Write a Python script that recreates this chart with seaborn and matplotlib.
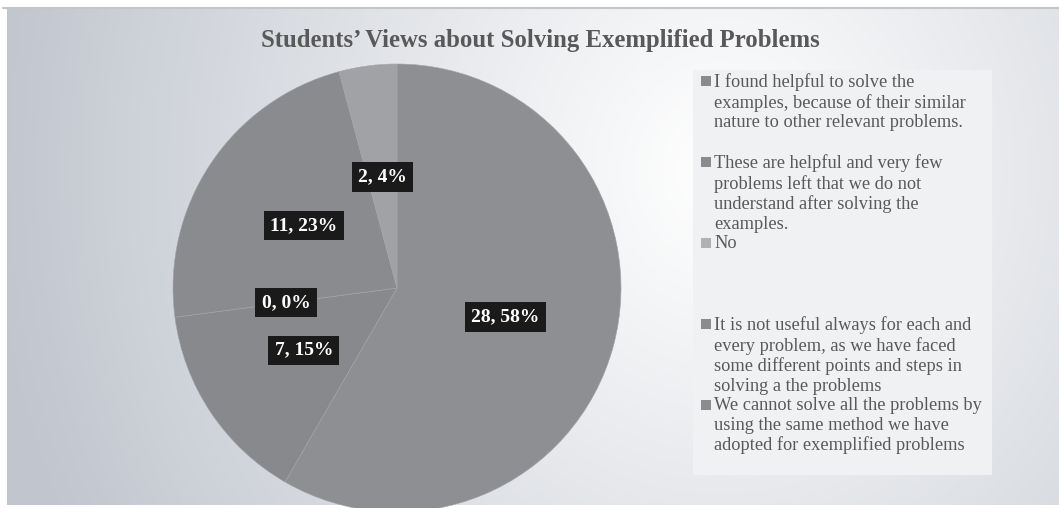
import matplotlib.pyplot as plt
import numpy as np
import seaborn as sns
from matplotlib.patches import Rectangle

sns.set_theme(style='white')
plt.rcParams['font.family'] = ['Liberation Serif', 'DejaVu Serif']

# data
answers = [
    'I found helpful to solve the\nexamples, because of their similar\nnature to other relevant problems.',
    'These are helpful and very few\nproblems left that we do not\nunderstand after solving the\nexamples.',
    'No',
    'It is not useful always for each and\nevery problem, as we have faced\nsome different points and steps in\nsolving a the problems',
    'We cannot solve all the problems by\nusing the same method we have\nadopted for exemplified problems',
]
counts = [28, 7, 0, 11, 2]
percents = [58, 15, 0, 23, 4]
slice_colors = ['#8e8f93', '#88898d', '#b0b1b4', '#8a8b8f', '#a1a2a6']
marker_colors = ['#8a8b8f', '#8a8b8f', '#b0b1b4', '#8a8b8f', '#8a8b8f']

W, H = 1059, 508
fig = plt.figure(figsize=(W / 100, H / 100), dpi=100)
fig.patch.set_facecolor('white')

# background gradient of the chart area
bg = fig.add_axes([7 / W, 3 / H, 1 - 7 / W, (505 - 8) / H])
yy, xx = np.mgrid[8:505, 7:W]
d = np.sqrt(((xx - 720) / 1.0) ** 2 + ((yy - 170) / 1.1) ** 2)
t = np.clip(d / 740, 0, 1) ** 1.05
c0 = np.array([255, 255, 255]) / 255
c1 = np.array([192, 197, 206]) / 255
img = c0[None, None, :] * (1 - t[..., None]) + c1[None, None, :] * t[..., None]
bg.imshow(img, aspect='auto', extent=[0, 1, 0, 1])
bg.set_axis_off()
fig.add_artist(plt.Line2D([3 / W, 1], [1 - 7.5 / H, 1 - 7.5 / H], color='#c6c6c6', lw=1.5))

# pie
cx, cy, r = 397, 288, 224
ax = fig.add_axes([(cx - r) / W, (H - cy - r) / H, 2 * r / W, 2 * r / H])
label_iter = iter([f'{c}, {p}%' for c, p in zip(counts, percents)])
wedges, texts, autotexts = ax.pie(
    counts, colors=slice_colors, startangle=90, counterclock=False,
    autopct=lambda pct: next(label_iter), pctdistance=0.5, radius=1,
    wedgeprops=dict(edgecolor='#a3a4a8', linewidth=0.4),
    textprops=dict(color='white', fontsize=14, fontweight='bold'))
for txt in autotexts:
    txt.set_bbox(dict(boxstyle='square,pad=0.32', fc='#1a1a1a', ec='none'))
ax.set_xlim(-1, 1)
ax.set_ylim(-1, 1)
ax.set_clip_on(False)

# title
fig.text(540 / W, 1 - 40 / H, 'Students’ Views about Solving Exemplified Problems',
         ha='center', va='center', fontsize=17.8, fontweight='bold', color='#595959')

# legend panel
fig.patches.append(Rectangle((693 / W, 1 - 475 / H), (992 - 693) / W, (475 - 70) / H,
                             transform=fig.transFigure, fc='#f0f1f3', ec='none', zorder=1))
for i, (lab, mc) in enumerate(zip(answers, marker_colors)):
    ycen = 81 + 81 * i
    fig.patches.append(Rectangle((701 / W, 1 - (ycen + 5) / H), 10 / W, 10 / H,
                                 transform=fig.transFigure, fc=mc, ec='none', zorder=2))
    fig.text(714 / W, 1 - (ycen - 8) / H, lab, ha='left', va='top', fontsize=13.2,
             color='#595959', linespacing=1.2, zorder=3)

fig.savefig('out.png', dpi=100)
